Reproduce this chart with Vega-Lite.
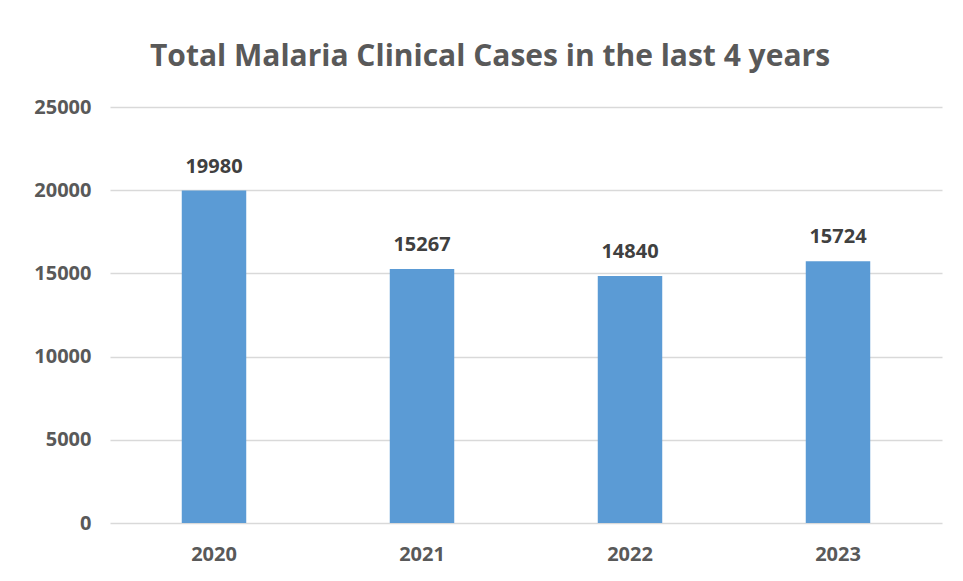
{
  "$schema": "https://vega.github.io/schema/vega-lite/v6.json",
  "autosize": "none",
  "width": 832,
  "height": 416,
  "padding": {"left": 110, "top": 107, "right": 21, "bottom": 58},
  "background": "white",
  "title": {
    "text": "Total Malaria Clinical Cases in the last 4 years",
    "font": "Open Sans",
    "fontSize": 30,
    "fontWeight": "bold",
    "color": "#595959",
    "anchor": "middle",
    "offset": 25,
    "dx": -36
  },
  "data": {
    "values": [
      {"year": "2020", "cases": 19980},
      {"year": "2021", "cases": 15267},
      {"year": "2022", "cases": 14840},
      {"year": "2023", "cases": 15724}
    ]
  },
  "encoding": {
    "x": {
      "field": "year",
      "type": "nominal",
      "sort": null,
      "scale": {"paddingInner": 0.69, "paddingOuter": 0.345},
      "axis": {
        "title": null,
        "labelAngle": 0,
        "domain": false,
        "ticks": false,
        "labelPadding": 21,
        "labelFont": "Open Sans",
        "labelFontSize": 20,
        "labelFontWeight": "bold",
        "labelColor": "#595959"
      }
    },
    "y": {
      "field": "cases",
      "type": "quantitative",
      "scale": {"domain": [0, 25000]},
      "axis": {
        "title": null,
        "values": [0, 5000, 10000, 15000, 20000, 25000],
        "format": "d",
        "domain": false,
        "ticks": false,
        "labelPadding": 19,
        "labelFont": "Open Sans",
        "labelFontSize": 20,
        "labelFontWeight": "bold",
        "labelColor": "#595959",
        "gridColor": "#d9d9d9",
        "gridWidth": 1.5
      }
    }
  },
  "layer": [
    {"mark": {"type": "bar", "color": "#5b9bd5"}},
    {
      "mark": {
        "type": "text",
        "baseline": "bottom",
        "dy": -14,
        "font": "Open Sans",
        "fontSize": 20,
        "fontWeight": "bold",
        "color": "#404040"
      },
      "encoding": {"text": {"field": "cases", "type": "quantitative", "format": "d"}}
    }
  ],
  "config": {"view": {"stroke": null}}
}
